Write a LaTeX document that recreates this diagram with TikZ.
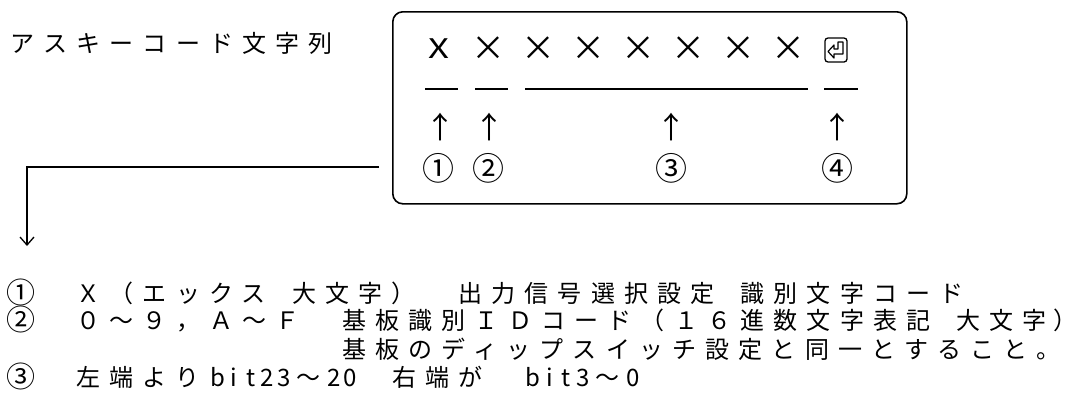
\documentclass[tikz,border=0pt]{standalone}
\usepackage{fontspec}
\usepackage{graphicx}
\newfontfamily\jp{Noto Sans CJK JP}
\usetikzlibrary{arrows.meta,calc}
\newcommand\lsp[1]{\addfontfeature{LetterSpace=#1}}
\newcommand\hc[1]{\makebox[16.6pt]{#1}}
\newcommand\fc[1]{\makebox[33.2pt]{#1}}
\begin{document}
\begin{tikzpicture}[x=1pt,y=-1pt,
  jt/.style={font={\jp\fontsize{24pt}{24pt}\selectfont}, anchor=base west, inner sep=0pt},
  lc/.style={font={\jp\fontsize{29pt}{29pt}\selectfont}, anchor=base west, inner sep=0pt, text height=17pt, text depth=2pt},
  sym/.style={font={\jp\fontsize{34pt}{34pt}\selectfont}, anchor=center, inner sep=0pt},
  circ/.style={font={\jp\fontsize{32pt}{32pt}\selectfont}, anchor=center, inner sep=0pt},
  upar/.style={font={\jp\fontsize{30pt}{30pt}\selectfont}, anchor=center, inner sep=0pt},
  uline/.style={line width=1.6pt},
  conn/.style={line width=1.5pt, -{Straight Barb[length=8pt,width=14pt,line width=1.3pt]}},
  frame/.style={draw, line width=1.6pt, rounded corners=10pt, inner sep=0pt, anchor=north west}]
\useasboundingbox (0,0) rectangle (1072,410);
\fill[white] (0,0) rectangle (1072,410);

% title
\node[jt] (title) at (10,52) {\lsp{38.3}アスキーコード文字列\kern-9pt};

% frame
\node[frame, minimum width=514pt, minimum height=192pt] (box) at (392,11) {};

% characters in the frame
\node[sym, font={\jp\fontsize{27pt}{27pt}\selectfont}] (ch1) at (439,49) {\scalebox{1.35}[1]{X}};
\foreach \i/\xx in {2/488,3/538,4/588,5/638,6/688,7/738,8/788}
  \node[sym] (ch\i) at (\xx,49) {×};
\node[draw, line width=1.3pt, rounded corners=3pt, minimum width=22pt, minimum height=24pt, inner sep=0pt] (ret) at (836,50) {};
\draw[line width=1.2pt, line join=round]
  ($(ret.center)+(2,-8)$) -- ++(5,0) -- ++(0,12) -- ++(-9,0) -- ++(0,4)
  -- ++(-6,-6.5) -- ++(6,-6.5) -- ++(0,4) -- ++(4,0) -- cycle;

% underlines
\coordinate (u1a) at (425,89); \coordinate (u1b) at (458,89);
\coordinate (u2a) at (475,89); \coordinate (u2b) at (508,89);
\coordinate (u3a) at (525,89); \coordinate (u3b) at (808,89);
\coordinate (u4a) at (824,89); \coordinate (u4b) at (858,89);
\draw[uline] (u1a) -- (u1b);
\draw[uline] (u2a) -- (u2b);
\draw[uline] (u3a) -- (u3b);
\draw[uline] (u4a) -- (u4b);

% arrows
\node[upar] (a1) at (440,127) {↑};
\node[upar] (a2) at (489,127) {↑};
\node[upar] (a3) at (671,127) {↑};
\node[upar] (a4) at (837,127) {↑};

% circled numbers
\node[circ] (c1) at (438,168) {①};
\node[circ] (c2) at (488,168) {②};
\node[circ] (c3) at (671,168) {③};
\node[circ] (c4) at (837,168) {④};

% connector
\coordinate (cs) at (379,167);
\coordinate (ce) at (27,246);
\draw[conn] (cs) -| (ce);

% legend rows (grid: x = 10 + cell * 33.2)
\node[lc] (r1n) at (4,303) {\fc{①}};
\node[jt] (r1a) at (76.4,302) {\lsp{38.3}Ｘ（エックス\kern-9pt};
\node[jt] (r1b) at (292.2,302) {\lsp{38.3}大文字）\kern-9pt};
\node[jt] (r1c) at (458.2,302) {\lsp{38.3}出力信号選択設定\kern-9pt};
\node[jt] (r1d) at (740.4,302) {\lsp{38.3}識別文字コード\kern-9pt};

\node[lc] (r2n) at (4,330) {\fc{②}};
\node[jt] (r2a) at (76.4,329) {\lsp{38.3}０～９，Ａ～Ｆ\kern-9pt};
\node[jt] (r2b) at (342,329) {\lsp{38.3}基板識別ＩＤコード（１６進数文字表記\kern-9pt};
\node[jt] (r2c) at (956.2,329) {\lsp{38.3}大文字\kern-9pt};
\node[jt] (r2e) at (1053,329) {\makebox[9pt][l]{）}};
\node[jt] (r2d) at (342,358) {\lsp{38.3}基板のディップスイッチ設定と同一とすること。\kern-22pt};

\node[lc] (r3n) at (4,387) {\fc{③}};
\node[jt] (r3a) at (76.4,386) {\lsp{38.3}左端より\kern-9pt};
\node[jt] (r3b) at (209.2,386) {\hc{b}\hc{i}\hc{t}\hc{2}\hc{3}\fc{～}\hc{2}\hc{0}};
\node[jt] (r3c) at (391.8,386) {\lsp{38.3}右端が\kern-9pt};
\node[jt] (r3d) at (524.6,386) {\hc{b}\hc{i}\hc{t}\hc{3}\fc{～}\hc{0}};
\end{tikzpicture}
\end{document}
